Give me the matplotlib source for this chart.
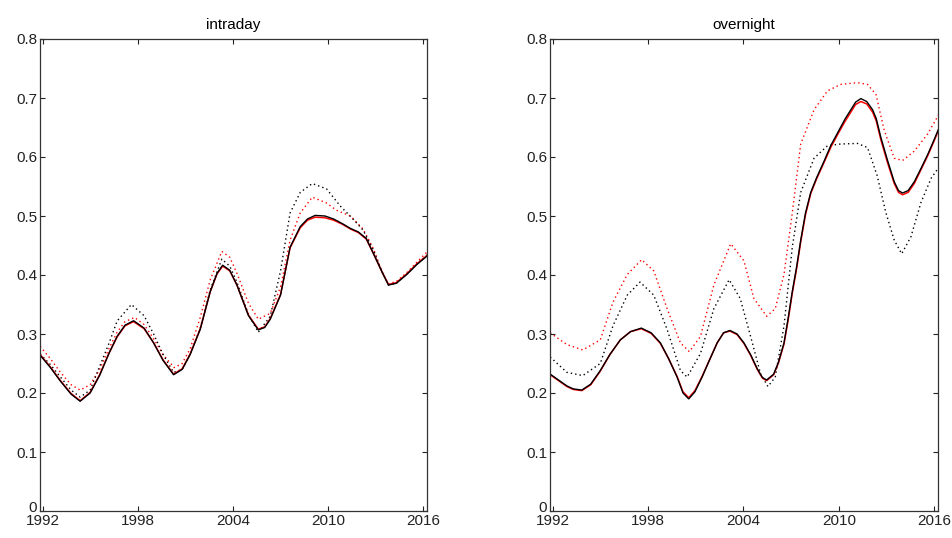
import matplotlib
matplotlib.use('Agg')
import matplotlib.pyplot as plt
import matplotlib.transforms as mtransforms
import numpy as np

plt.rcParams['font.family'] = ['Liberation Sans', 'DejaVu Sans']

# ---- intraday ----
yr_id_k = [1991.85, 1992.5, 1993.1, 1993.8, 1994.37, 1995.0, 1995.6, 1996.2, 1996.7, 1997.2,
           1997.74, 1998.4, 1999.0, 1999.6, 2000.26, 2000.8, 2001.3, 2001.94, 2002.57, 2003.0,
           2003.35, 2003.8, 2004.25, 2004.98, 2005.6, 2006.0, 2006.35, 2007.0, 2007.6, 2008.24,
           2008.7, 2009.18, 2009.8, 2010.34, 2010.9, 2011.4, 2011.9, 2012.4, 2012.86, 2013.4,
           2013.8, 2014.3, 2014.96, 2015.6, 2016.27]
id_k = [0.264, 0.243, 0.221, 0.198, 0.186, 0.200, 0.230, 0.268, 0.296, 0.315,
        0.3225, 0.310, 0.285, 0.255, 0.231, 0.240, 0.265, 0.308, 0.372, 0.403,
        0.4166, 0.408, 0.383, 0.331, 0.307, 0.311, 0.325, 0.366, 0.447, 0.482,
        0.495, 0.501, 0.500, 0.495, 0.487, 0.479, 0.473, 0.462, 0.436, 0.405,
        0.383, 0.386, 0.401, 0.418, 0.433]
id_r = [0.265, 0.244, 0.222, 0.199, 0.187, 0.201, 0.231, 0.268, 0.295, 0.314,
        0.321, 0.309, 0.285, 0.256, 0.232, 0.241, 0.266, 0.309, 0.372, 0.402,
        0.415, 0.407, 0.383, 0.332, 0.308, 0.312, 0.326, 0.367, 0.446, 0.480,
        0.493, 0.498, 0.497, 0.493, 0.486, 0.478, 0.472, 0.461, 0.436, 0.405,
        0.384, 0.387, 0.402, 0.419, 0.434]

yr_id_kd = [1991.85, 1992.5, 1993.1, 1993.8, 1994.37, 1995.0, 1995.6, 1996.2, 1996.7, 1997.6,
            1998.4, 1999.0, 1999.6, 2000.26, 2000.8, 2001.3, 2001.94, 2002.57, 2003.3, 2003.8,
            2004.25, 2004.98, 2005.6, 2006.35, 2007.0, 2007.6, 2008.24, 2009.0, 2009.9, 2010.76,
            2011.6, 2012.2, 2012.86, 2013.4, 2013.8, 2014.3, 2014.96, 2015.6, 2016.27]
id_kd = [0.266, 0.248, 0.228, 0.205, 0.193, 0.205, 0.245, 0.285, 0.322, 0.350,
         0.331, 0.300, 0.265, 0.235, 0.240, 0.266, 0.310, 0.375, 0.427, 0.415,
         0.388, 0.333, 0.303, 0.330, 0.407, 0.505, 0.540, 0.555, 0.546, 0.517,
         0.494, 0.476, 0.442, 0.405, 0.383, 0.386, 0.402, 0.419, 0.435]

yr_id_rd = [1991.85, 1992.5, 1993.1, 1993.8, 1994.37, 1995.0, 1995.6, 1996.2, 1996.7, 1997.2,
            1997.8, 1998.4, 1999.0, 1999.6, 2000.3, 2000.8, 2001.3, 2001.94, 2002.57, 2003.3,
            2003.8, 2004.25, 2004.98, 2005.6, 2006.35, 2007.0, 2007.6, 2008.24, 2009.0, 2009.9,
            2010.5, 2011.4, 2012.2, 2012.86, 2013.4, 2013.8, 2014.3, 2014.96, 2015.6, 2016.27]
id_rd = [0.279, 0.258, 0.236, 0.214, 0.205, 0.214, 0.240, 0.276, 0.303, 0.321,
         0.328, 0.316, 0.292, 0.265, 0.243, 0.250, 0.275, 0.328, 0.392, 0.440,
         0.430, 0.403, 0.352, 0.325, 0.335, 0.380, 0.459, 0.505, 0.532, 0.522,
         0.510, 0.500, 0.478, 0.444, 0.405, 0.385, 0.389, 0.404, 0.422, 0.440]

# ---- overnight ----
yr_on_k = [1991.85, 1992.9, 1993.3, 1993.84, 1994.4, 1995.0, 1995.6, 1996.26, 1996.9, 1997.58,
           1998.2, 1998.78, 1999.3, 1999.83, 2000.2, 2000.56, 2000.95, 2001.4, 2001.9, 2002.35,
           2002.75, 2003.15, 2003.6, 2004.03, 2004.45, 2004.87, 2005.2, 2005.46, 2005.9, 2006.2,
           2006.55, 2006.8, 2007.07, 2007.35, 2007.6, 2007.9, 2008.23, 2008.6, 2009.07, 2009.5,
           2010.0, 2010.4, 2010.75, 2011.05, 2011.38, 2011.75, 2012.12, 2012.35, 2012.64, 2013.05,
           2013.48, 2013.75, 2014.0, 2014.35, 2014.74, 2015.15, 2015.58, 2015.95, 2016.32]
on_k = [0.232, 0.212, 0.207, 0.205, 0.215, 0.238, 0.265, 0.290, 0.304, 0.310,
        0.302, 0.285, 0.258, 0.227, 0.200, 0.190, 0.202, 0.227, 0.258, 0.285,
        0.302, 0.306, 0.300, 0.285, 0.265, 0.241, 0.226, 0.222, 0.232, 0.252,
        0.285, 0.325, 0.372, 0.415, 0.459, 0.505, 0.540, 0.565, 0.593, 0.620,
        0.645, 0.665, 0.680, 0.693, 0.699, 0.694, 0.680, 0.665, 0.633, 0.595,
        0.558, 0.543, 0.539, 0.543, 0.558, 0.580, 0.604, 0.627, 0.651]
on_r = [0.231, 0.211, 0.206, 0.204, 0.214, 0.237, 0.265, 0.290, 0.304, 0.309,
        0.301, 0.284, 0.258, 0.228, 0.202, 0.192, 0.204, 0.228, 0.258, 0.285,
        0.302, 0.305, 0.299, 0.284, 0.264, 0.240, 0.225, 0.221, 0.231, 0.251,
        0.283, 0.322, 0.369, 0.412, 0.456, 0.502, 0.538, 0.563, 0.591, 0.617,
        0.642, 0.661, 0.676, 0.689, 0.694, 0.690, 0.676, 0.661, 0.629, 0.591,
        0.555, 0.540, 0.536, 0.540, 0.555, 0.578, 0.602, 0.625, 0.649]

yr_on_rd = [1991.85, 1992.9, 1993.9, 1995.0, 1995.8, 1996.7, 1997.6, 1998.36, 1999.2, 2000.04,
            2000.6, 2001.3, 2002.14, 2003.2, 2004.03, 2004.66, 2005.46, 2006.0, 2006.55, 2007.07,
            2007.6, 2008.44, 2009.28, 2010.1, 2011.17, 2011.8, 2012.33, 2012.85, 2013.48, 2014.0,
            2014.74, 2015.58, 2016.32]
on_rd = [0.302, 0.282, 0.273, 0.290, 0.354, 0.401, 0.426, 0.407, 0.343, 0.285,
         0.270, 0.296, 0.383, 0.453, 0.424, 0.360, 0.330, 0.343, 0.401, 0.505,
         0.622, 0.680, 0.712, 0.723, 0.726, 0.723, 0.706, 0.645, 0.598, 0.594,
         0.610, 0.639, 0.674]

yr_on_kd = [1991.85, 1992.9, 1993.9, 1995.0, 1995.8, 1996.7, 1997.5, 1998.36, 1999.2, 2000.04,
            2000.46, 2001.3, 2002.14, 2003.1, 2003.8, 2004.56, 2005.08, 2005.54, 2006.0, 2006.55,
            2007.07, 2007.6, 2008.44, 2009.28, 2010.1, 2011.17, 2011.8, 2012.4, 2012.95, 2013.48,
            2013.95, 2014.53, 2015.16, 2015.8, 2016.32]
on_kd = [0.261, 0.235, 0.2295, 0.250, 0.314, 0.366, 0.388, 0.366, 0.308, 0.238,
         0.227, 0.267, 0.343, 0.392, 0.360, 0.285, 0.232, 0.211, 0.227, 0.314,
         0.447, 0.540, 0.598, 0.619, 0.622, 0.623, 0.616, 0.569, 0.506, 0.459,
         0.436, 0.465, 0.523, 0.564, 0.584]

xticks = [1992, 1998, 2004, 2010, 2016]
yticks = [0, 0.1, 0.2, 0.3, 0.4, 0.5, 0.6, 0.7, 0.8]
ytick_labels = ['0', '0.1', '0.2', '0.3', '0.4', '0.5', '0.6', '0.7', '0.8']

dots = (0, (1, 2.2))

fig = plt.figure(figsize=(9.52, 5.38), dpi=100)
ax1 = fig.add_axes([40/952, 27/538, 387/952, 472/538])
ax2 = fig.add_axes([550/952, 27/538, 388/952, 472/538])

panels = [
    (ax1, 'intraday', (yr_id_k, id_r), (yr_id_k, id_k), (yr_id_rd, id_rd), (yr_id_kd, id_kd)),
    (ax2, 'overnight', (yr_on_k, on_r), (yr_on_k, on_k), (yr_on_rd, on_rd), (yr_on_kd, on_kd)),
]

for ax, name, red, blk, red_d, blk_d in panels:
    ax.plot(red_d[0], red_d[1], color='red', lw=1.0, linestyle=dots)
    ax.plot(blk_d[0], blk_d[1], color='black', lw=1.0, linestyle=dots)
    ax.plot(red[0], red[1], color='red', lw=1.1)
    ax.plot(blk[0], blk[1], color='black', lw=1.0)
    ax.set_xlim(1991.84, 2016.23)
    ax.set_ylim(0, 0.8)
    ax.set_xticks(xticks)
    ax.set_yticks(yticks)
    ax.set_yticklabels(ytick_labels)
    ax.tick_params(direction='in', length=3.5, width=0.8, top=True, right=True,
                   labelsize=11, colors='#222222', pad=2)
    for s in ax.spines.values():
        s.set_linewidth(0.9)
        s.set_color('#333333')
    ax.set_title(name, fontsize=11, pad=7)
    # lift the "0" label so it clears the first year label
    zero = ax.get_yticklabels()[0]
    zero.set_transform(zero.get_transform() +
                       mtransforms.ScaledTranslation(0, 5/100, fig.dpi_scale_trans))

fig.savefig('out.png', dpi=100)
